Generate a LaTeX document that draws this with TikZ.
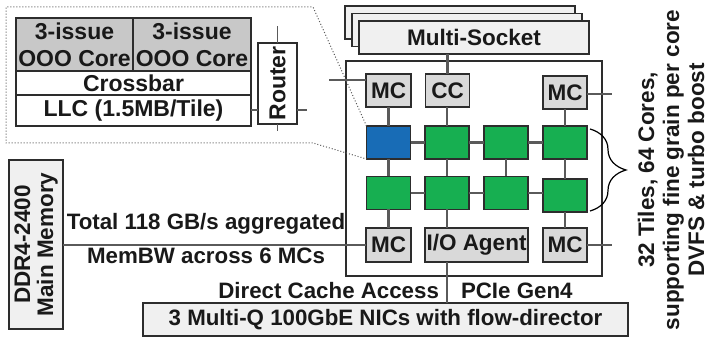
\documentclass[tikz,border=0pt]{standalone}
\usepackage{fontspec}
\setmainfont{Liberation Sans}
\usetikzlibrary{decorations.pathreplacing}
\definecolor{tilegreen}{RGB}{23,175,81}
\definecolor{tileblue}{RGB}{24,108,182}
\definecolor{mcgray}{RGB}{217,217,217}
\definecolor{coregray}{RGB}{200,200,200}
\definecolor{lightbox}{RGB}{240,240,240}
\definecolor{bordercol}{RGB}{45,45,45}
\definecolor{linecol}{RGB}{90,90,90}
\definecolor{txtcol}{RGB}{25,25,25}
\newcommand\myfs[2]{\fontsize{#1}{#2}\selectfont\bfseries}
\begin{document}
\begin{tikzpicture}[x=1pt,y=-1pt,
  every node/.style={inner sep=0pt, outer sep=0pt, text=txtcol},
  graybox/.style={draw=bordercol, fill=mcgray, line width=1.5pt, font=\myfs{22.5}{24}},
  lightbx/.style={draw=bordercol, fill=lightbox, line width=1.5pt, font=\myfs{22.5}{24}},
  corebox/.style={draw=bordercol, fill=coregray, line width=1.5pt, font=\myfs{23}{27}, align=center},
  whitebox/.style={draw=bordercol, fill=white, line width=1.5pt, font=\myfs{23}{27}},
  gtile/.style={draw=bordercol, fill=tilegreen, line width=1.5pt, minimum width=44pt, minimum height=33pt},
  btile/.style={draw=bordercol, fill=tileblue, line width=1.5pt, minimum width=44pt, minimum height=33pt},
  conn/.style={draw=linecol, line width=2.5pt},
  rconn/.style={draw=linecol, line width=1.5pt},
  lbl/.style={font=\myfs{22.3}{24}},
  callout/.style={draw=linecol, line width=1pt, dotted}
]
\useasboundingbox (0,0) rectangle (710,339);

% chip outline
\node[draw=bordercol, line width=1.3pt, minimum width=256pt, minimum height=215pt] (chip) at (474,168.5) {};

% multi-socket stack
\node[lightbx, minimum width=230pt, minimum height=33pt] (ms3) at (460,22.5) {};
\node[lightbx, minimum width=230pt, minimum height=33pt] (ms2) at (467,30) {};
\node[lightbx, minimum width=230pt, minimum height=33pt] (ms1) at (474,37.5) {Multi-Socket};

% top row
\node[graybox, minimum width=45pt, minimum height=33pt] (mc1) at (388.5,90.5) {MC};
\node[graybox, minimum width=44pt, minimum height=33pt] (cc) at (447.5,90.5) {CC};
\node[graybox, minimum width=44pt, minimum height=33pt] (mc2) at (565,92.5) {MC};

% tiles
\node[btile] (t11) at (388.5,142.5) {};
\node[gtile] (t21) at (447,142.5) {};
\node[gtile] (t31) at (506,142.5) {};
\node[gtile] (t41) at (565,142.5) {};
\node[gtile] (t12) at (388.5,193) {};
\node[gtile] (t22) at (447,193) {};
\node[gtile] (t32) at (506,193) {};
\node[gtile] (t42) at (565,195.5) {};

% bottom row
\node[graybox, minimum width=45pt, minimum height=34pt] (mc3) at (388.5,245) {MC};
\node[graybox, minimum width=103pt, minimum height=34pt] (io) at (476.5,245) {I/O Agent};
\node[graybox, minimum width=44pt, minimum height=34pt] (mc4) at (565,245) {MC};

% NIC and DDR
\node[lightbx, minimum width=485pt, minimum height=33pt, font=\myfs{22.3}{24}] (nic) at (385.5,319.5) {3 Multi-Q 100GbE NICs with flow-director};
\node[lightbx, minimum width=54pt, minimum height=169pt] (ddr) at (36,244.5) {};
\node[rotate=90, align=center, font=\myfs{22.5}{23}] (ddrtxt) at (36,244.5) {DDR4-2400\\Main Memory};

% inset tile detail
\node[corebox, minimum width=117pt, minimum height=53pt] (core1) at (74.5,44.5) {3-issue\\OOO Core};
\node[corebox, minimum width=118pt, minimum height=53pt] (core2) at (192,44.5) {3-issue\\OOO Core};
\node[whitebox, minimum width=235pt, minimum height=24pt] (xbar) at (133.5,83) {Crossbar};
\node[whitebox, minimum width=235pt, minimum height=31pt] (llc) at (133.5,110.5) {LLC (1.5MB/Tile)};
\node[whitebox, minimum width=39pt, minimum height=81pt] (router) at (277.5,83.5) {};
\node[rotate=90, font=\myfs{23}{27}] (routertxt) at (277.5,83.5) {Router};

% coordinates for free ends
\coordinate (rtTop) at (277.5,26);
\coordinate (rtBot) at (277.5,131);
\coordinate (rtRight) at (307,110);
\coordinate (stubL) at (329,80);
\coordinate (stubR1) at (612,94);
\coordinate (stubR2) at (612,245);
\coordinate (coTop) at (313,7);
\coordinate (coTL) at (6,7);
\coordinate (coBL) at (6,143);
\coordinate (coBot) at (313,143);
\coordinate (brTop) at (590,129);
\coordinate (brBot) at (590,211);

% router connectors
\draw[rconn] (router.north) -- (rtTop);
\draw[rconn] (router.south) -- (rtBot);
\draw[rconn] (router.east |- rtRight) -- (rtRight);
\draw[rconn] (llc.east |- rtRight) -- (router.west |- rtRight);

% callout
\draw[callout] (t11.north west) -- (coTop) -- (coTL) -- (coBL) -- (coBot) -- (t11.south west);

% chip connectors
\draw[conn] (cc.north) -- (cc.north |- ms1.south);
\draw[conn] (stubL) -- (stubL -| mc1.west);
\draw[conn] (mc2.east |- stubR1) -- (stubR1);
\draw[conn] (mc4.east) -- (stubR2);
\draw[conn] (mc1) -- (t11);
\draw[conn] (cc.south -| t21) -- (t21.north);
\draw[conn] (mc2) -- (t41);
\draw[conn] (t11) -- (t21);
\draw[conn] (t21) -- (t31);
\draw[conn] (t31) -- (t41);
\draw[conn] (t12) -- (t22);
\draw[conn] (t22) -- (t32);
\draw[conn] (t32.east) -- (t32.east -| t42.west);
\draw[conn] (t11) -- (t12);
\draw[conn] (t21) -- (t22);
\draw[conn] (t31) -- (t32);
\draw[conn] (t41) -- (t42);
\draw[conn] (t12) -- (mc3);
\draw[conn] (t22.south) -- (t22 |- io.north);
\draw[conn] (t42) -- (mc4);
\draw[conn] (t22 |- io.south) -- (t22 |- nic.north);
\draw[conn] (mc3.west) -- (mc3.west -| ddr.east);

% labels
\node[lbl] (totlbl) at (206,224) {Total 118 GB/s aggregated};
\node[lbl] (bwlbl) at (206,256) {MemBW across 6 MCs};
\node[lbl, anchor=east] (dcalbl) at (439,291) {Direct Cache Access};
\node[lbl, anchor=west] (pcielbl) at (461,291) {PCIe Gen4};

% brace
\draw[decorate, decoration={brace, amplitude=36pt}, line width=1.2pt, draw=black] (brTop) -- (brBot);
\node[rotate=90, align=center, font=\myfs{22.5}{25}] (sidetxt) at (671,170) {32 Tiles, 64 Cores,\\supporting fine grain per core\\DVFS \& turbo boost};
\end{tikzpicture}
\end{document}
